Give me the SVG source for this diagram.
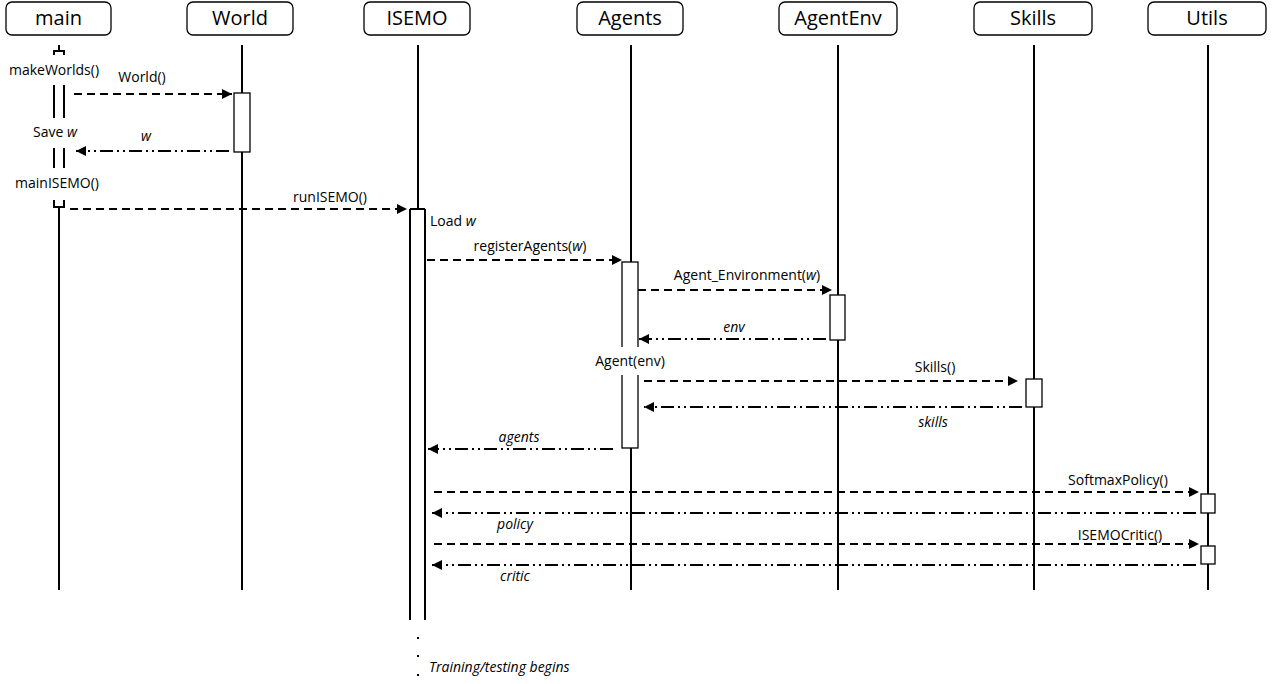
<svg xmlns="http://www.w3.org/2000/svg" width="1279" height="684" viewBox="0 0 1279 684">
<style>
.hdr{fill:#fff;stroke:#000;stroke-width:1.3}
.ht{font-family:"Open Sans","Liberation Sans",sans-serif;font-size:20px;text-anchor:middle;fill:#000}
.t{font-family:"Open Sans","Liberation Sans",sans-serif;font-size:14px;fill:#000}
.i{font-style:italic}
.m{text-anchor:middle}
.life{stroke:#000;stroke-width:2;fill:none}
.act{fill:#fff;stroke:#000;stroke-width:1.3}
.call{stroke:#000;stroke-width:2;stroke-dasharray:8 5;fill:none;marker-end:url(#ah)}
.ret{stroke:#000;stroke-width:2;stroke-dasharray:13 4 2 4 2 4;fill:none;marker-end:url(#ah)}
</style>
<defs>
<marker id="ah" viewBox="0 0 10 10" refX="10" refY="5" markerWidth="5" markerHeight="5" orient="auto" markerUnits="strokeWidth">
<path d="M0,0 L10,5 L0,10 z" fill="#000"/>
</marker>
</defs>
<rect width="1279" height="684" fill="#fff"/>

<g id="main">
<rect class="hdr" x="6" y="2" width="105" height="33" rx="6"/>
<text class="ht" x="58.5" y="25">main</text>
<path class="life" d="M59,45 V51 M54,55 V51 H64 V55" stroke-width="1.5"/>
<path class="life" d="M54,85 V118 M64,85 V118 M54,148 V168 M64,148 V168" stroke-width="1.5"/>
<path class="life" d="M54,200 V207 H64 V200" stroke-width="1.5"/>
<path class="life" d="M59,207 V590"/>
<text class="t m" x="54" y="75">makeWorlds()</text>
<text class="t m" x="55" y="137">Save <tspan class="i">w</tspan></text>
<text class="t m" x="57" y="188">mainISEMO()</text>
</g>

<g id="World">
<rect class="hdr" x="187" y="2" width="106" height="33" rx="6"/>
<text class="ht" x="240" y="25">World</text>
<path class="life" d="M242,45 V590"/>
<rect class="act" x="234" y="93" width="16" height="59"/>
</g>

<g id="ISEMO">
<rect class="hdr" x="364" y="2" width="106" height="33" rx="6"/>
<text class="ht" x="417" y="25">ISEMO</text>
<path class="life" d="M418,45 V209"/>
<path class="life" d="M410,209 H425 M410,209 V620 M425,209 V620" stroke-width="1.5"/>
<text class="t" x="430" y="226">Load <tspan class="i">w</tspan></text>
<rect x="417" y="637" width="2" height="2" fill="#000"/>
<rect x="417" y="655" width="2" height="2" fill="#000"/>
<rect x="417" y="674" width="2" height="2" fill="#000"/>
<text class="t i" x="429" y="672" font-size="12">Training/testing begins</text>
</g>

<g id="Agents">
<rect class="hdr" x="577" y="2" width="106" height="33" rx="6"/>
<text class="ht" x="630" y="25">Agents</text>
<path class="life" d="M631,45 V590"/>
<rect class="act" x="622" y="262" width="16" height="186"/>
<rect x="588" y="347" width="84" height="28" fill="#fff"/>
<text class="t m" x="630" y="366">Agent(env)</text>
</g>

<g id="AgentEnv">
<rect class="hdr" x="779" y="2" width="118" height="33" rx="6"/>
<text class="ht" x="838" y="25">AgentEnv</text>
<path class="life" d="M838,45 V590"/>
<rect class="act" x="830" y="295" width="15" height="45"/>
</g>

<g id="Skills">
<rect class="hdr" x="974" y="2" width="118" height="33" rx="6"/>
<text class="ht" x="1033" y="25">Skills</text>
<path class="life" d="M1034,45 V590"/>
<rect class="act" x="1026" y="379" width="16" height="28"/>
</g>

<g id="Utils">
<rect class="hdr" x="1148" y="2" width="118" height="33" rx="6"/>
<text class="ht" x="1207" y="25">Utils</text>
<path class="life" d="M1208,45 V590"/>
<rect class="act" x="1201" y="494" width="14" height="19"/>
<rect class="act" x="1201" y="546" width="14" height="18"/>
</g>

<g id="connectors">
<path class="call" d="M74,94 H232"/>
<text class="t m" x="142" y="82">World()</text>
<path class="ret" d="M229,151 H76"/>
<text class="t i m" x="146" y="141">w</text>
<path class="call" d="M70,209 H407"/>
<text class="t m" x="330" y="202">runISEMO()</text>
<path class="call" d="M427,260 H622"/>
<text class="t m" x="530" y="251">registerAgents(<tspan class="i">w</tspan>)</text>
<path class="call" d="M638,290 H832"/>
<text class="t m" x="747" y="280">Agent_Environment(<tspan class="i">w</tspan>)</text>
<path class="ret" d="M826,339 H639"/>
<text class="t i m" x="734" y="332">env</text>
<path class="call" d="M644,381 H1018"/>
<text class="t m" x="935" y="372">Skills()</text>
<path class="ret" d="M1022,407 H644"/>
<text class="t i m" x="933" y="427">skills</text>
<path class="ret" d="M613,449 H428"/>
<text class="t i m" x="519" y="442">agents</text>
<path class="call" d="M434,492 H1199"/>
<text class="t m" x="1118" y="485">SoftmaxPolicy()</text>
<path class="ret" d="M1196,513 H432"/>
<text class="t i m" x="515" y="529">policy</text>
<path class="call" d="M434,544 H1199"/>
<text class="t m" x="1120" y="540">ISEMOCritic()</text>
<path class="ret" d="M1196,565 H432"/>
<text class="t i m" x="515" y="581">critic</text>
</g>
</svg>
